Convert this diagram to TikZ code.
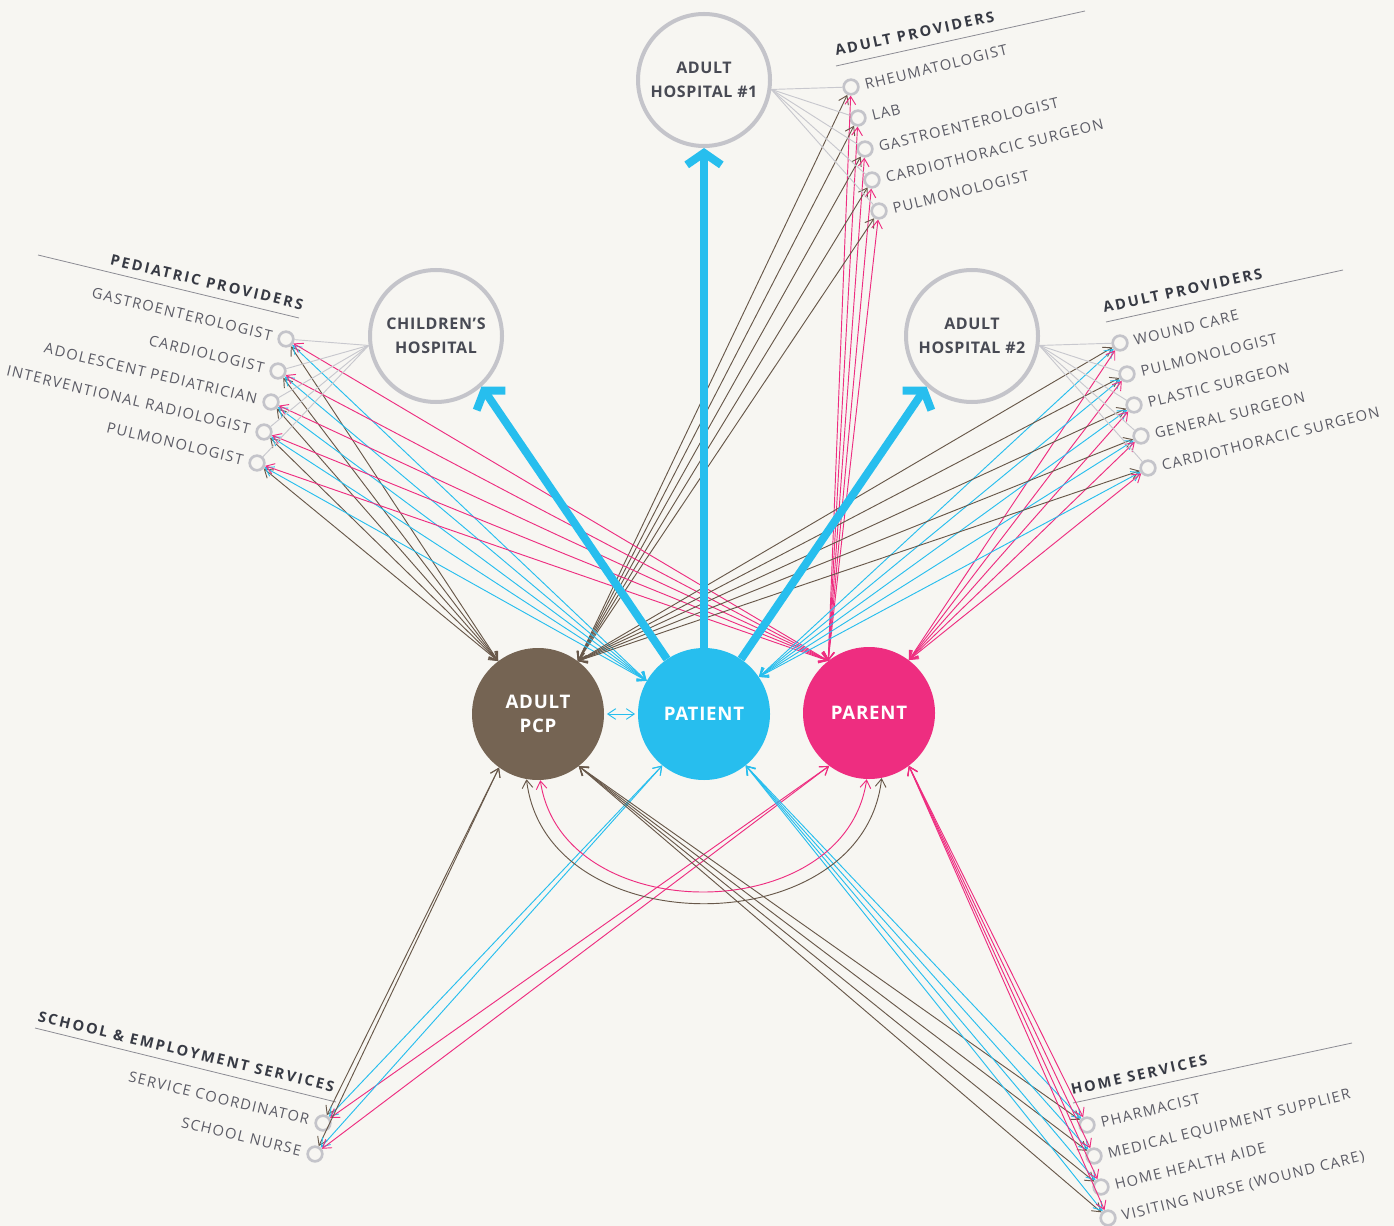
\documentclass[tikz,border=0pt]{standalone}
\usepackage{fontspec}
\setmainfont{Open Sans}
\newfontfamily\provfamily[LetterSpace=9]{Open Sans}
\newfontfamily\groupfamily[LetterSpace=15]{Open Sans}
\newfontfamily\nodefamily[LetterSpace=4]{Open Sans}
\usetikzlibrary{arrows.meta}

\definecolor{bgcol}{RGB}{247,246,242}
\definecolor{pcpcol}{RGB}{117,100,83}
\definecolor{pcpline}{RGB}{104,88,74}
\definecolor{patcol}{RGB}{39,190,238}
\definecolor{parcol}{RGB}{238,45,128}
\definecolor{ringcol}{RGB}{196,196,202}
\definecolor{fangray}{RGB}{200,200,206}
\definecolor{hosptext}{RGB}{72,74,84}
\definecolor{provtext}{RGB}{92,92,102}
\definecolor{grouptext}{RGB}{55,58,68}
\definecolor{linegray}{RGB}{140,140,148}

\tikzset{
  bignode/.style={circle, minimum size=99pt, inner sep=0pt, align=center, text=white,
    font=\nodefamily\bfseries\fontsize{14}{18}\selectfont},
  hospnode/.style={circle, draw=ringcol, line width=3pt, minimum size=99pt, inner sep=0pt,
    align=center, text=hosptext, font=\nodefamily\bfseries\fontsize{12}{18}\selectfont},
  provdot/.style={circle, draw=ringcol, line width=2pt, minimum size=11pt, inner sep=0pt},
  provR/.style={anchor=base west, rotate=14, inner sep=0pt, text=provtext,
    font=\provfamily\fontsize{11}{12}\selectfont},
  provL/.style={anchor=base east, rotate=-13.5, inner sep=0pt, text=provtext,
    font=\provfamily\fontsize{11}{12}\selectfont},
  grouplbl/.style={inner sep=0pt, text=grouptext, font=\groupfamily\bfseries\fontsize{11}{12}\selectfont},
  groupline/.style={draw=linegray, line width=0.6pt},
  fanline/.style={draw=fangray, line width=0.7pt},
  brn/.style={draw=pcpline, line width=0.7pt, <->},
  blu/.style={draw=patcol, line width=0.7pt, <->},
  pnk/.style={draw=parcol, line width=0.7pt, <->},
  bigarrow/.style={draw=patcol, line width=6pt, -{Straight Barb[length=9pt,width=26pt]}}
}

\begin{document}
\begin{tikzpicture}[x=0.75pt,y=0.75pt,yscale=-1,xscale=1,>={Straight Barb[length=6pt,width=8pt]}]
%background
\fill[bgcol] (0,0) rectangle (1394,1226);
\useasboundingbox (0,0) rectangle (1394,1226);

% Main circles
\node[bignode, fill=pcpcol] (pcp) at (538,714) {ADULT\\PCP};
\node[bignode, fill=patcol] (pat) at (704,714) {PATIENT};
\node[bignode, fill=parcol] (par) at (869,713) {PARENT};
% Hospitals
\node[hospnode] (hos1) at (704,80) {ADULT\\HOSPITAL \#1};
\node[hospnode] (chos) at (436,336) {CHILDREN’S\\HOSPITAL};
\node[hospnode] (hos2) at (972,336) {ADULT\\HOSPITAL \#2};

% Group headings
\draw[groupline] (836,66) -- (1085,11);
\node[grouplbl, anchor=base west, rotate=12.3] (g-hos1) at (836,56) {ADULT PROVIDERS};
\draw[groupline] (38,255) -- (299,318);
\node[grouplbl, anchor=base east, rotate=-13.3] (g-ped) at (302,310) {PEDIATRIC PROVIDERS};
\draw[groupline] (1106,322) -- (1343,270);
\node[grouplbl, anchor=base west, rotate=12.3] (g-hos2) at (1104,313) {ADULT PROVIDERS};
\draw[groupline] (35,1028) -- (336,1102);
\node[grouplbl, anchor=base west, rotate=-13.5] (g-sch) at (37,1021) {SCHOOL \& EMPLOYMENT SERVICES};
\draw[groupline] (1073,1103) -- (1352,1043);
\node[grouplbl, anchor=base west, rotate=12.5] (g-home) at (1072,1095) {HOME SERVICES};

% Provider circles and labels
\foreach \n/\x/\y/\lab in {h1a/851/87/RHEUMATOLOGIST, h1b/858/118/LAB, h1c/865/149/GASTROENTEROLOGIST,
    h1d/872/180/CARDIOTHORACIC SURGEON, h1e/879/211/PULMONOLOGIST,
    h2a/1120/343/WOUND CARE, h2b/1127/374/PULMONOLOGIST, h2c/1134/405/PLASTIC SURGEON,
    h2d/1141/436/GENERAL SURGEON, h2e/1148/468/CARDIOTHORACIC SURGEON,
    hsa/1087/1125/PHARMACIST, hsb/1094/1156/MEDICAL EQUIPMENT SUPPLIER,
    hsc/1101/1187/HOME HEALTH AIDE, hsd/1108/1218/{VISITING NURSE (WOUND CARE)}}{
  \node[provdot] (\n) at (\x,\y) {};
  \node[provR] (\n-t) at (\x+15,\y+3) {\lab};
}
\foreach \n/\x/\y/\lab in {pda/286/339/GASTROENTEROLOGIST, pdb/278/371/CARDIOLOGIST,
    pdc/271/402/ADOLESCENT PEDIATRICIAN, pdd/264/432/INTERVENTIONAL RADIOLOGIST,
    pde/257/463/PULMONOLOGIST, sca/323/1123/SERVICE COORDINATOR, scb/315/1154/SCHOOL NURSE}{
  \node[provdot] (\n) at (\x,\y) {};
  \node[provL] (\n-t) at (\x-15,\y+2) {\lab};
}

% Hospital fans
\foreach \n in {h1a,h1b,h1c,h1d,h1e}{
  \draw[fanline] (hos1.-8) -- (\n);
  \draw[brn] (pcp.53) -- (\n);
  \draw[pnk] (par.128) -- (\n);
}
\foreach \n in {pda,pdb,pdc,pdd,pde}{
  \draw[fanline] (chos.188) -- (\n);
  \draw[brn] (pcp.127) -- (\n);
  \draw[blu] (pat.150) -- (\n);
  \draw[pnk] (par.128) -- (\n);
}
\foreach \n in {h2a,h2b,h2c,h2d,h2e}{
  \draw[fanline] (hos2.-8) -- (\n);
  \draw[brn] (pcp.53) -- (\n);
  \draw[blu] (pat.34) -- (\n);
  \draw[pnk] (par.53) -- (\n);
}
% School and home services
\foreach \n in {sca,scb}{
  \draw[brn] (pcp.234) -- (\n);
  \draw[blu] (pat.231) -- (\n);
  \draw[pnk] (par.233) -- (\n);
}
\foreach \n in {hsa,hsb,hsc,hsd}{
  \draw[brn] (pcp.308) -- (\n);
  \draw[blu] (pat.309) -- (\n);
  \draw[pnk] (par.307) -- (\n);
}

% PCP - parent arcs
\draw[pnk] (pcp.272) .. controls (562,929) and (845,929) .. (par.268);
\draw[brn] (pcp.260) .. controls (546,945) and (863,945) .. (par.281);
\draw[blu, shorten <=2pt, shorten >=2pt] (pcp) -- (pat);

% Patient to hospitals
\draw[bigarrow] (pat.90) -- (hos1.-90);
\draw[bigarrow] (pat.124) -- (chos.-48);
\draw[bigarrow] (pat.56) -- (hos2.228);

\end{tikzpicture}
\end{document}
